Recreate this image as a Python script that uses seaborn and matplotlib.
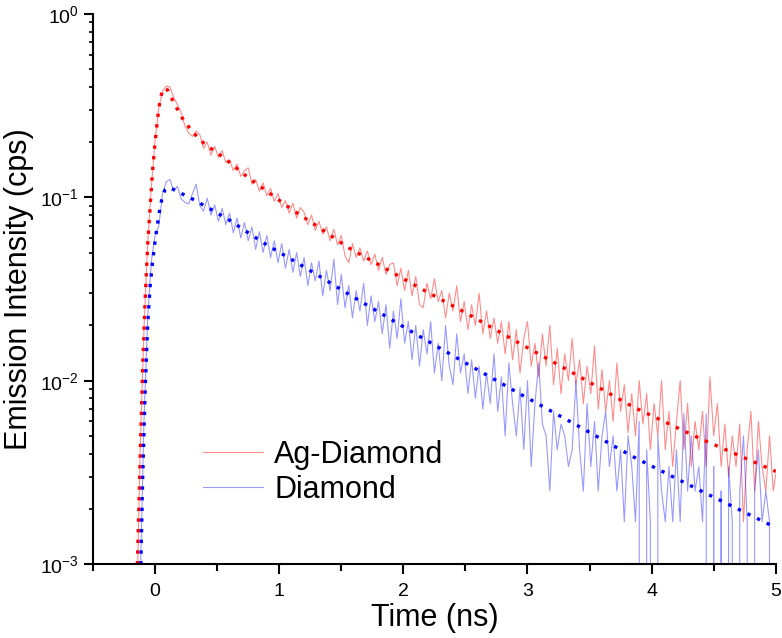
import matplotlib
matplotlib.use("Agg")
import matplotlib.pyplot as plt
from matplotlib.ticker import MultipleLocator
import numpy as np
import seaborn as sns

# sampling grid of the decay traces (ns)
time_ns = np.round(np.arange(173) * 0.03 - 0.15, 2)

ag_diamond_raw = [
    0.0005, 0.0042, 0.019, 0.056, 0.115, 0.205, 0.31, 0.38, 0.405, 0.40,
    0.35, 0.32, 0.29, 0.245, 0.225, 0.215, 0.23, 0.22, 0.185, 0.20,
    0.17, 0.19, 0.165, 0.18, 0.155, 0.16, 0.14, 0.152, 0.13, 0.14,
    0.145, 0.118, 0.125, 0.108, 0.12, 0.102, 0.112, 0.095, 0.105, 0.088,
    0.096, 0.082, 0.093, 0.077, 0.088, 0.083, 0.071, 0.080, 0.066, 0.074,
    0.063, 0.069, 0.058, 0.067, 0.055, 0.062, 0.048, 0.044, 0.056, 0.047,
    0.053, 0.045, 0.051, 0.043, 0.049, 0.040, 0.047, 0.038, 0.043, 0.044,
    0.033, 0.041, 0.031, 0.040, 0.029, 0.037, 0.026, 0.025, 0.034, 0.028,
    0.036, 0.027, 0.031, 0.022, 0.030, 0.024, 0.033, 0.021, 0.027, 0.019,
    0.026, 0.020, 0.030, 0.018, 0.024, 0.017, 0.022, 0.016, 0.021, 0.014,
    0.021, 0.013, 0.019, 0.011, 0.017, 0.021, 0.012, 0.016, 0.0105, 0.018,
    0.012, 0.020, 0.0095, 0.015, 0.0085, 0.014, 0.010, 0.017, 0.0095, 0.013,
    0.0075, 0.012, 0.0085, 0.0155, 0.007, 0.0115, 0.0068, 0.0100, 0.0060, 0.0125,
    0.0068, 0.0095, 0.0052, 0.0085, 0.0050, 0.0100, 0.0058, 0.0085, 0.0042, 0.0075,
    0.0050, 0.0100, 0.0042, 0.0068, 0.0034, 0.0060, 0.0100, 0.0042, 0.0075, 0.0034,
    0.0060, 0.0042, 0.0068, 0.0034, 0.0105, 0.0050, 0.0075, 0.0034, 0.0058, 0.0030,
    0.0050, 0.0034, 0.0058, 0.0017, 0.0042, 0.0068, 0.0025, 0.0060, 0.0034, 0.0025,
    0.0050, 0.0025, 0.0034,
]

diamond_raw = [
    0.0003, 0.0008, 0.006, 0.022, 0.045, 0.062, 0.070, 0.105, 0.122, 0.125,
    0.108, 0.115, 0.098, 0.094, 0.092, 0.104, 0.118, 0.090, 0.084, 0.099,
    0.080, 0.091, 0.074, 0.087, 0.071, 0.082, 0.064, 0.077, 0.060, 0.073,
    0.058, 0.069, 0.052, 0.065, 0.050, 0.062, 0.047, 0.058, 0.044, 0.056,
    0.041, 0.052, 0.039, 0.050, 0.037, 0.047, 0.033, 0.044, 0.035, 0.045,
    0.029, 0.040, 0.031, 0.046, 0.026, 0.038, 0.025, 0.033, 0.022, 0.031,
    0.024, 0.034, 0.020, 0.029, 0.021, 0.027, 0.018, 0.026, 0.015, 0.024,
    0.017, 0.028, 0.016, 0.021, 0.013, 0.020, 0.012, 0.019, 0.014, 0.021,
    0.011, 0.016, 0.010, 0.020, 0.012, 0.0095, 0.018, 0.011, 0.014, 0.0085,
    0.013, 0.0080, 0.012, 0.0070, 0.0110, 0.0075, 0.0140, 0.0068, 0.0105, 0.0050,
    0.0125, 0.0075, 0.0050, 0.0092, 0.0042, 0.0100, 0.0034, 0.0075, 0.0125, 0.0058,
    0.0050, 0.0025, 0.0068, 0.0042, 0.0058, 0.0050, 0.0034, 0.0042, 0.0100, 0.0042,
    0.0025, 0.0075, 0.0034, 0.0060, 0.0025, 0.0050, 0.0068, 0.0034, 0.0050, 0.0025,
    0.0042, 0.0017, 0.0050, 0.0034, 0.0017, 0.0060, 0.0, 0.0042, 0.0017, 0.0,
    0.0050, 0.0025, 0.0017, 0.0034, 0.0017, 0.0042, 0.0017, 0.0066, 0.0025, 0.0050,
    0.0025, 0.0034, 0.0017, 0.0066, 0.0, 0.0034, 0.0, 0.0025, 0.0, 0.0034,
    0.0017, 0.0, 0.0025, 0.0050, 0.0017, 0.0, 0.0025, 0.0042, 0.0017, 0.0025,
    0.0017, 0.0, 0.0042,
]

# fitted decay curves (dotted)
ag_fit_t = [-0.16, -0.143, -0.12, -0.10, -0.08, -0.06, -0.04, -0.02, 0.00, 0.02,
            0.04, 0.06, 0.08, 0.10, 0.13, 0.17, 0.22, 0.30, 0.40, 0.50, 0.60,
            0.75, 0.90, 1.10, 1.30, 1.56, 1.80, 2.115, 2.50, 2.935, 3.40, 3.85,
            4.40, 5.00]
ag_fit_v = [0.0003, 0.001, 0.004, 0.012, 0.028, 0.055, 0.089, 0.141, 0.20, 0.27,
            0.34, 0.385, 0.395, 0.385, 0.35, 0.31, 0.27, 0.228, 0.195, 0.175, 0.155,
            0.128, 0.108, 0.086, 0.070, 0.053, 0.043, 0.0325, 0.0235, 0.016, 0.0107,
            0.0072, 0.0048, 0.0032]

d_fit_t = [-0.13, -0.115, -0.10, -0.08, -0.06, -0.04, -0.02, 0.00, 0.02, 0.04,
           0.06, 0.08, 0.10, 0.13, 0.20, 0.30, 0.45, 0.60, 0.758, 0.90, 1.10,
           1.30, 1.56, 1.80, 2.115, 2.50, 2.935, 3.40, 3.85, 4.40, 5.00]
d_fit_v = [0.0003, 0.001, 0.003, 0.009, 0.020, 0.033, 0.045, 0.058, 0.072, 0.088,
           0.102, 0.110, 0.113, 0.112, 0.106, 0.098, 0.086, 0.075, 0.0636, 0.055,
           0.0458, 0.038, 0.0296, 0.0237, 0.0177, 0.0125, 0.0085, 0.0057, 0.00385,
           0.0025, 0.00158]

sns.set_style("ticks")
plt.rcParams.update({
    "font.family": ["Liberation Sans", "DejaVu Sans"],
    "mathtext.default": "regular",
    "axes.unicode_minus": False,
    "text.color": "black",
    "axes.labelcolor": "black",
    "axes.edgecolor": "black",
    "xtick.color": "black",
    "ytick.color": "black",
})

fig = plt.figure(figsize=(7.82, 6.38), dpi=100)
ax = fig.add_axes([0.119, 0.116, 0.873, 0.862])

sns.lineplot(x=time_ns, y=ag_diamond_raw, ax=ax, color="#ff0000", alpha=0.45,
             linewidth=0.8, estimator=None, sort=False)
sns.lineplot(x=time_ns, y=diamond_raw, ax=ax, color="#0000ff", alpha=0.4,
             linewidth=0.8, estimator=None, sort=False)
dots = (0, (1, 2.2))
sns.lineplot(x=ag_fit_t, y=ag_fit_v, ax=ax, color="#ff0000", linewidth=2.4,
             linestyle=dots, estimator=None, sort=False)
sns.lineplot(x=d_fit_t, y=d_fit_v, ax=ax, color="#0000ff", linewidth=2.4,
             linestyle=dots, estimator=None, sort=False)

ax.set_yscale("log")
ax.set_ylim(1e-3, 1)
ax.set_xlim(-0.5, 5)
ax.xaxis.set_major_locator(MultipleLocator(1))
ax.xaxis.set_minor_locator(MultipleLocator(0.5))

for side in ("top", "right"):
    ax.spines[side].set_visible(False)
for side in ("left", "bottom"):
    ax.spines[side].set_linewidth(1.5)
ax.tick_params(axis="both", which="major", direction="out", width=1.5,
               labelsize=14)
ax.tick_params(axis="x", which="major", length=7.5, pad=6)
ax.tick_params(axis="x", which="minor", length=5, width=1.5)
ax.tick_params(axis="y", which="major", length=6.5, pad=4)
ax.tick_params(axis="y", which="minor", length=3.2, width=1.2)

ax.set_xlabel("Time (ns)", fontsize=22, labelpad=2)
ax.set_ylabel("Emission Intensity (cps)", fontsize=22, labelpad=4)

handles = ax.get_lines()[:2]
ax.legend(handles, ["Ag-Diamond", "Diamond"], loc="center left",
          bbox_to_anchor=(0.2596, 0.2594), bbox_transform=fig.transFigure,
          frameon=False, fontsize=22, handlelength=1.97, handletextpad=0.36,
          labelspacing=0.16, borderpad=0, borderaxespad=0)

fig.savefig("out.png", dpi=100)
